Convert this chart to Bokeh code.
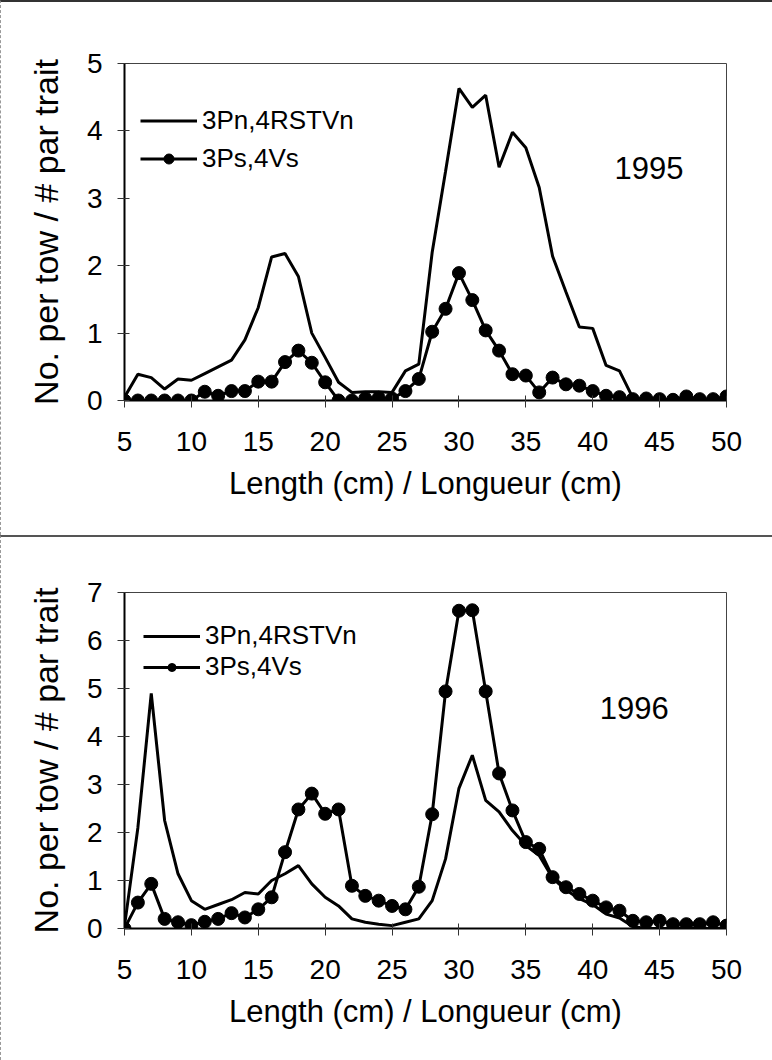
from bokeh.plotting import figure
from bokeh.models import Range1d, FixedTicker, Legend, LegendItem, Label
from bokeh.layouts import column
from bokeh.embed import file_html
from bokeh.resources import INLINE

FONT = "Liberation Sans"

lengths = list(range(5, 51))

n95 = [0.05, 0.39, 0.34, 0.17, 0.32, 0.30, 0.40, 0.50, 0.60, 0.90,
       1.38, 2.13, 2.18, 1.84, 1.00, 0.64, 0.27, 0.12, 0.13, 0.13,
       0.12, 0.44, 0.54, 2.20, 3.40, 4.63, 4.35, 4.53, 3.46, 3.98,
       3.75, 3.16, 2.14, 1.61, 1.09, 1.07, 0.52, 0.44, 0.04, 0.0,
       0.0, 0.0, 0.0, 0.0, 0.0, 0.0]
s95 = [0.0, 0.0, 0.0, 0.0, 0.0, 0.0, 0.13, 0.07, 0.14, 0.14,
       0.28, 0.28, 0.57, 0.74, 0.56, 0.27, 0.0, 0.0, 0.03, 0.04,
       0.03, 0.14, 0.32, 1.02, 1.36, 1.89, 1.49, 1.04, 0.74, 0.39,
       0.37, 0.12, 0.34, 0.24, 0.22, 0.14, 0.07, 0.05, 0.02, 0.03,
       0.02, 0.01, 0.06, 0.02, 0.02, 0.06]

n96 = [0.05, 2.10, 4.90, 2.25, 1.14, 0.58, 0.40, 0.50, 0.60, 0.75,
       0.72, 1.00, 1.14, 1.31, 0.93, 0.65, 0.47, 0.20, 0.13, 0.09,
       0.06, 0.13, 0.20, 0.58, 1.45, 2.92, 3.61, 2.67, 2.43, 2.04,
       1.73, 1.52, 1.05, 0.80, 0.62, 0.50, 0.30, 0.22, 0.04, 0.0,
       0.0, 0.0, 0.0, 0.0, 0.0, 0.0]
s96 = [0.0, 0.54, 0.93, 0.20, 0.13, 0.07, 0.14, 0.20, 0.32, 0.23,
       0.40, 0.65, 1.59, 2.48, 2.81, 2.39, 2.48, 0.89, 0.68, 0.58,
       0.47, 0.40, 0.87, 2.38, 4.94, 6.62, 6.63, 4.94, 3.23, 2.46,
       1.80, 1.66, 1.07, 0.86, 0.72, 0.58, 0.44, 0.37, 0.16, 0.13,
       0.16, 0.09, 0.09, 0.09, 0.13, 0.06]

x_ticks = [5, 10, 15, 20, 25, 30, 35, 40, 45, 50]
name_n = "3Pn,4RSTVn"
name_s = "3Ps,4Vs"
x_title = "Length (cm) / Longueur (cm)"
y_title = "No. per tow / # par trait"


def panel(height, top, bottom, ymax, yn, ys, year, year_xy, leg_loc, row_h, spacing, border):
    p = figure(width=772, height=height, output_backend="svg", toolbar_location=None,
               x_range=Range1d(5, 50), y_range=Range1d(0, ymax),
               min_border_left=123, min_border_right=47,
               min_border_top=top, min_border_bottom=bottom,
               styles={"border-top": border, "border-left": "1px dashed #999999"})
    p.grid.visible = False
    p.outline_line_color = "#444444"
    p.outline_line_width = 1
    p.background_fill_color = "white"
    p.border_fill_color = "white"

    p.xaxis.ticker = FixedTicker(ticks=x_ticks)
    p.yaxis.ticker = FixedTicker(ticks=list(range(0, ymax + 1)))
    for ax in (p.xaxis[0], p.yaxis[0]):
        ax.axis_line_width = 2
        ax.axis_line_color = "black"
        ax.major_tick_line_color = "#333333"
        ax.major_tick_line_width = 1
        ax.major_tick_in = 5
        ax.major_tick_out = 7
        ax.minor_tick_line_color = None
        ax.major_label_text_font = FONT
        ax.major_label_text_font_size = "28px"
        ax.major_label_text_color = "black"
        ax.axis_label_text_font = FONT
        ax.axis_label_text_font_style = "normal"
        ax.axis_label_text_color = "black"
    p.xaxis.major_label_standoff = 24
    p.yaxis.major_label_standoff = 15
    p.xaxis.axis_label = x_title
    p.yaxis.axis_label = y_title
    p.xaxis.axis_label_text_font_size = "31px"
    p.yaxis.axis_label_text_font_size = "34px"
    p.xaxis.axis_label_standoff = 12
    p.yaxis.axis_label_standoff = 19

    rn = p.line(lengths, yn, line_color="black", line_width=3)
    rs_line = p.line(lengths, ys, line_color="black", line_width=3)
    rs_pts = p.scatter(lengths, ys, size=13, marker="circle",
                       fill_color="black", line_color="black")

    legend = Legend(items=[LegendItem(label=name_n, renderers=[rn]),
                           LegendItem(label=name_s, renderers=[rs_line, rs_pts])],
                    location=leg_loc)
    legend.border_line_color = None
    legend.background_fill_alpha = 0
    legend.label_text_font = FONT
    legend.label_text_font_size = "26px"
    legend.label_text_color = "black"
    legend.glyph_width = 57
    legend.glyph_height = row_h
    legend.label_height = row_h
    legend.spacing = spacing
    legend.padding = 5
    legend.margin = 0
    legend.label_standoff = 5
    p.add_layout(legend, "center")

    p.add_layout(Label(x=year_xy[0], y=year_xy[1], text=year,
                       text_font=FONT, text_font_size="31px",
                       text_align="center", text_baseline="middle",
                       text_color="black"))
    return p


p1 = panel(535, 61, 137, 5, n95, s95, "1995", (44.2, 3.45), (16, 226), 25, 7,
           "2px solid #333333")
p2 = panel(525, 55, 134, 7, n96, s96, "1996", (43.1, 4.59), (19, 246), 20, 0,
           "2px solid #555555")

layout = column(p1, p2, spacing=0)

open("out.html", "w").write(file_html(layout, INLINE))
